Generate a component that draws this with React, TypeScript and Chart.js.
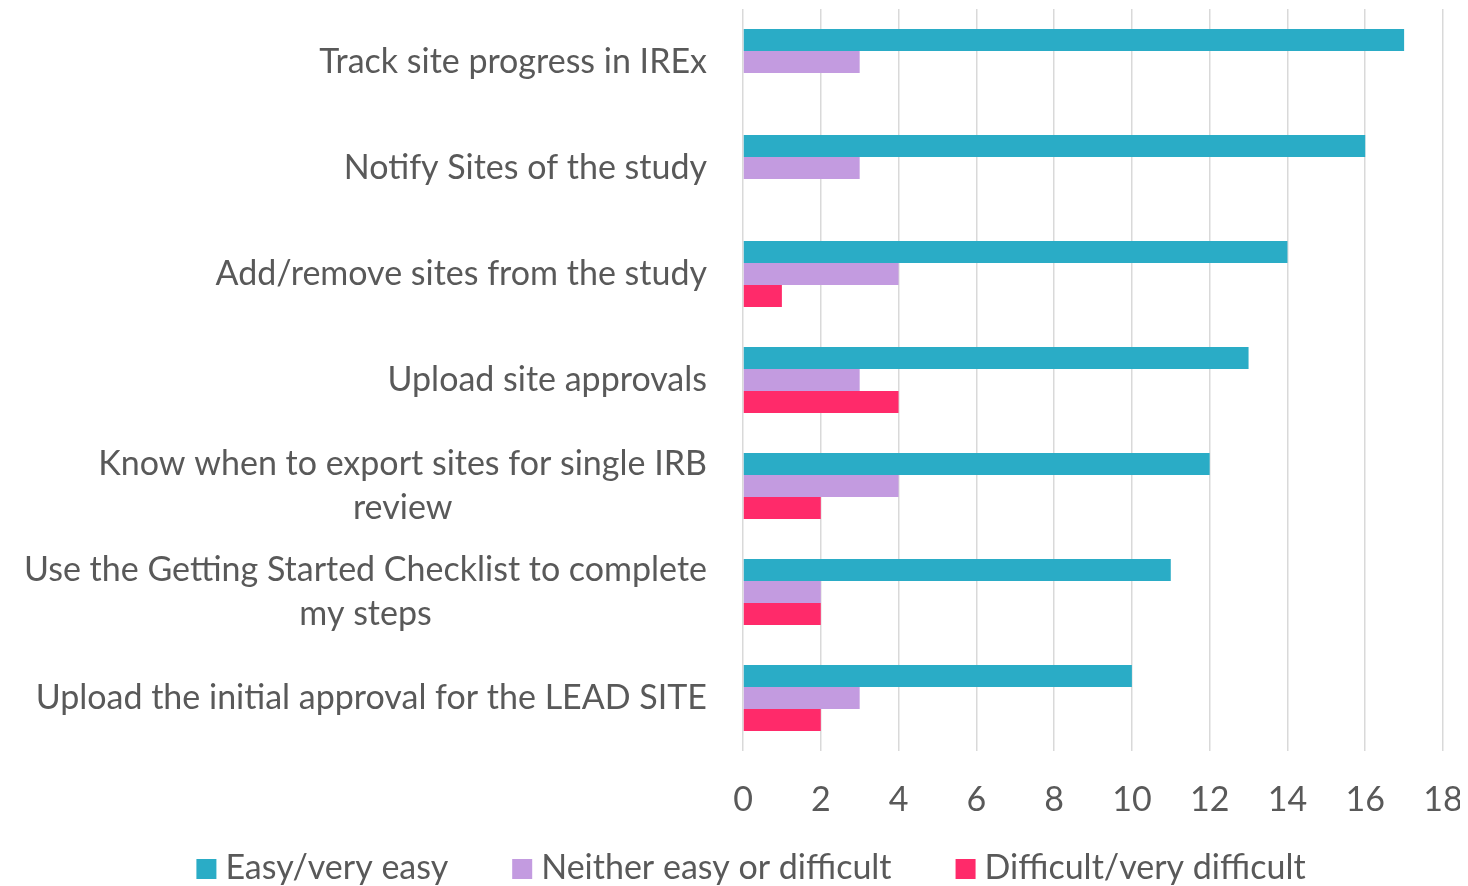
import React, { useEffect, useRef } from "react";
import { Chart, registerables } from "chart.js";

Chart.register(...registerables);

const categories: string[][] = [
  ["Track site progress in IREx"],
  ["Notify Sites of the study"],
  ["Add/remove sites from the study"],
  ["Upload site approvals"],
  ["Know when to export sites for single IRB", "review"],
  ["Use the Getting Started Checklist to complete", "my steps"],
  ["Upload the initial approval for the LEAD SITE"],
];
const easyValues = [17, 16, 14, 13, 12, 11, 10];
const neitherValues = [3, 3, 4, 3, 4, 2, 3];
const difficultValues = [0, 0, 1, 4, 2, 2, 2];
const seriesNames = ["Easy/very easy", "Neither easy or difficult", "Difficult/very difficult"];
const seriesColors = ["#2AACC6", "#C39BE0", "#FF2A6A"];
const xTicks = [0, 2, 4, 6, 8, 10, 12, 14, 16, 18];

const FONT = "Lato";
const TEXT = "#595959";
const LABEL_SIZE = 34;

const yLabelPlugin = {
  id: "yLabels",
  afterDraw(chart: any) {
    const ctx = chart.ctx;
    const yScale = chart.scales.y;
    const right = chart.chartArea.left - 36;
    const lineH = 44;
    ctx.save();
    ctx.font = `${LABEL_SIZE}px ${FONT}`;
    ctx.fillStyle = TEXT;
    ctx.textBaseline = "middle";
    ctx.textAlign = "center";
    categories.forEach((lines, i) => {
      const cy = yScale.getPixelForTick(i);
      const widths = lines.map((l) => ctx.measureText(l).width);
      const maxW = Math.max(...widths);
      const cx = right - maxW / 2;
      lines.forEach((l, j) => {
        const y = cy + (j - (lines.length - 1) / 2) * lineH;
        ctx.fillText(l, cx, y);
      });
    });
    ctx.restore();
  },
};

const legendPlugin = {
  id: "customLegend",
  afterDraw(chart: any) {
    const ctx = chart.ctx;
    const box = 20;
    const gapText = 9;
    const gapItem = 64;
    ctx.save();
    ctx.font = `34px ${FONT}`;
    ctx.textBaseline = "alphabetic";
    ctx.textAlign = "left";
    const items = chart.data.datasets.map((d: any) => ({
      label: d.label,
      color: d.backgroundColor,
      w: ctx.measureText(d.label).width,
    }));
    const total =
      items.reduce((s: number, it: any) => s + box + gapText + it.w, 0) + gapItem * (items.length - 1);
    let x = 743 - total / 2;
    const baseline = 871;
    items.forEach((it: any) => {
      ctx.fillStyle = it.color;
      ctx.fillRect(x, baseline - box, box, box);
      x += box + gapText;
      ctx.fillStyle = TEXT;
      ctx.fillText(it.label, x, baseline);
      x += it.w + gapItem;
    });
    ctx.restore();
  },
};

export default function App() {
  const ref = useRef<HTMLCanvasElement | null>(null);
  useEffect(() => {
    if (!ref.current) return;
    document.body.style.overflow = "hidden";
    const chart = new Chart(ref.current, {
      type: "bar",
      data: {
        labels: categories.map((c) => c.join(" ")),
        datasets: [
          { label: seriesNames[0], data: easyValues, backgroundColor: seriesColors[0] },
          { label: seriesNames[1], data: neitherValues, backgroundColor: seriesColors[1] },
          { label: seriesNames[2], data: difficultValues, backgroundColor: seriesColors[2] },
        ],
      },
      options: {
        indexAxis: "y",
        animation: false,
        responsive: false,
        devicePixelRatio: 1,
        layout: { padding: { top: 1, right: 17, left: 0, bottom: 65 } },
        datasets: { bar: { categoryPercentage: 0.623, barPercentage: 1 } },
        scales: {
          x: {
            min: 0,
            max: 18,
            afterBuildTicks: (scale: any) => {
              scale.ticks = xTicks.map((v) => ({ value: v }));
            },
            afterFit: (scale: any) => {
              scale.height = 70;
              scale.paddingLeft = 0;
              scale.paddingRight = 0;
            },
            grid: { color: "#D9D9D9", lineWidth: 1.5, drawTicks: false },
            border: { display: false },
            ticks: {
              padding: 29,
              color: TEXT,
              font: { family: FONT, size: 34 },
            },
          },
          y: {
            grid: { display: false },
            border: { display: false },
            ticks: { display: false },
            afterFit: (scale: any) => {
              scale.width = 735;
            },
          },
        },
        plugins: {
          legend: { display: false },
          tooltip: { enabled: false },
        },
      },
      plugins: [yLabelPlugin, legendPlugin],
    });
    return () => chart.destroy();
  }, []);
  return (
    <canvas
      ref={ref}
      width={1452}
      height={878}
      style={{ display: "block", width: 1452, height: 878 }}
    />
  );
}
